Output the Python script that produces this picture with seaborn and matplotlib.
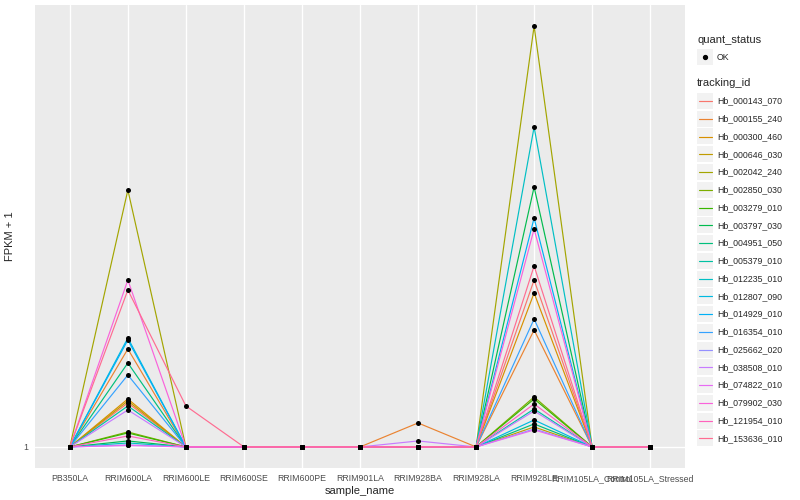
import pandas as pd
import numpy as np
import matplotlib
matplotlib.use("Agg")
import matplotlib.pyplot as plt
import seaborn as sns
from matplotlib.patches import Rectangle
from matplotlib.lines import Line2D

# =====================================================
# DATA (FPKM + 1)
# =====================================================

samples = [
    "PB350LA", "RRIM600LA", "RRIM600LE", "RRIM600SE", "RRIM600PE",
    "RRIM901LA", "RRIM928BA", "RRIM928LA", "RRIM928LE",
    "RRIM105LA_Control", "RRIM105LA_Stressed"
]

tracking_ids = [
    "Hb_000143_070", "Hb_000155_240", "Hb_000300_460", "Hb_000646_030",
    "Hb_002042_240", "Hb_002850_030", "Hb_003279_010", "Hb_003797_030",
    "Hb_004951_050", "Hb_005379_010", "Hb_012235_010", "Hb_012807_090",
    "Hb_014929_010", "Hb_016354_010", "Hb_025662_020", "Hb_038508_010",
    "Hb_074822_010", "Hb_079902_030", "Hb_121954_010", "Hb_153636_010"
]

baseline = [1.0] * 20

rrim600la = [5.4, 10.8, 5.8, 5.6, 26.7, 2.5, 2.4, 1.6, 9.4, 5.1,
             1.4, 11.9, 11.7, 8.2, 1.2, 4.7, 1.15, 17.7, 2.1, 16.7]

rrim600le = [1.0, 1.0, 1.0, 1.0, 1.0, 1.0, 1.0, 1.0, 1.0, 1.0,
             1.0, 1.0, 1.0, 1.0, 1.0, 1.0, 1.0, 1.0, 1.0, 5.1]

rrim928ba = [1.0, 3.4, 1.0, 1.0, 1.0, 1.0, 1.0, 1.0, 1.0, 1.0,
             1.0, 1.0, 1.0, 1.0, 1.0, 1.6, 1.0, 1.0, 1.0, 1.0]

rrim928le = [17.7, 12.7, 16.4, 3.0, 43.1, 6.0, 5.8, 27.0, 3.3, 4.8,
             33.0, 3.7, 23.9, 13.8, 2.8, 4.6, 2.7, 22.8, 5.3, 19.1]

columns = {
    "PB350LA": baseline,
    "RRIM600LA": rrim600la,
    "RRIM600LE": rrim600le,
    "RRIM600SE": baseline,
    "RRIM600PE": baseline,
    "RRIM901LA": baseline,
    "RRIM928BA": rrim928ba,
    "RRIM928LA": baseline,
    "RRIM928LE": rrim928le,
    "RRIM105LA_Control": baseline,
    "RRIM105LA_Stressed": baseline,
}

# ggplot2 hue_pal(20)
colors = [
    "#F8766D", "#EA8331", "#D89000", "#C09B00", "#A3A500",
    "#7CAE00", "#39B600", "#00BB4E", "#00BF7D", "#00C1A3",
    "#00BFC4", "#00BAE0", "#00B0F6", "#35A2FF", "#9590FF",
    "#C77CFF", "#E76BF3", "#FA62DB", "#FF62BC", "#FF6C91"
]

rows = []
for s in samples:
    for g, v in zip(tracking_ids, columns[s]):
        rows.append({"sample_name": s, "tracking_id": g, "fpkm1": v})
df = pd.DataFrame(rows)
df["sample_name"] = pd.Categorical(df["sample_name"], categories=samples, ordered=True)
df["xpos"] = df["sample_name"].cat.codes

# =====================================================
# PLOT
# =====================================================

sns.set_style("white")
plt.rcParams["font.family"] = ["Liberation Sans", "DejaVu Sans"]

fig = plt.figure(figsize=(8, 5), dpi=100)
ax = fig.add_axes([35/800, 32/500, 650/800, 463/500])
ax.set_facecolor("#EBEBEB")

sns.lineplot(
    data=df,
    x="xpos",
    y="fpkm1",
    hue="tracking_id",
    hue_order=tracking_ids,
    palette=colors,
    linewidth=0.85,
    legend=False,
    estimator=None,
    sort=True,
    ax=ax
)

sns.scatterplot(
    data=df,
    x="xpos",
    y="fpkm1",
    color="black",
    s=13,
    linewidth=0,
    legend=False,
    zorder=5,
    ax=ax
)

ymin, ymax = df["fpkm1"].min(), df["fpkm1"].max()
rng = ymax - ymin
ax.set_ylim(ymin - 0.05 * rng, ymax + 0.05 * rng)
ax.set_xlim(-0.6, len(samples) - 0.4)

ax.set_xticks(range(len(samples)))
ax.set_xticklabels(samples)
ax.set_yticks([1])
ax.set_yticklabels(["1"])

ax.set_axisbelow(True)
ax.grid(True, color="white", linewidth=1.0)
for sp in ax.spines.values():
    sp.set_visible(False)

ax.tick_params(axis="both", length=2.5, width=0.6, color="#333333",
               labelsize=6.3, labelcolor="#4D4D4D", pad=2)

ax.set_xlabel("sample_name", fontsize=8, labelpad=2)
ax.set_ylabel("FPKM + 1", fontsize=8, labelpad=6)

# =====================================================
# LEGEND (ggplot style, drawn in pixel coords)
# =====================================================

def px(x, y):
    return x / 800, 1 - y / 500

fig.text(*px(697, 40), "quant_status", fontsize=8, va="center", ha="left")
kx, kw, kh = 697, 16, 16
x0, y0 = px(kx, 57 + kh / 2)
fig.patches.append(Rectangle((x0, y0), kw / 800, kh / 500,
                             transform=fig.transFigure, facecolor="#F2F2F2",
                             edgecolor="none"))
fig.lines.append(Line2D([px(kx + kw / 2, 57)[0]], [px(kx + kw / 2, 57)[1]],
                        transform=fig.transFigure, marker="o", color="black",
                        markersize=2.8, linestyle="none"))
fig.text(*px(717, 57), "OK", fontsize=6.3, va="center", ha="left")

fig.text(*px(697, 83), "tracking_id", fontsize=8, va="center", ha="left")
step = 17.75
for i, (g, c) in enumerate(zip(tracking_ids, colors)):
    yc = 101 + i * step
    x0, y0 = px(kx, yc + kh / 2)
    fig.patches.append(Rectangle((x0, y0), kw / 800, kh / 500,
                                 transform=fig.transFigure,
                                 facecolor="#F2F2F2", edgecolor="none"))
    xa, ya = px(kx + 1.5, yc)
    xb, _ = px(kx + kw - 1.5, yc)
    fig.lines.append(Line2D([xa, xb], [ya, ya], transform=fig.transFigure,
                            color=c, linewidth=0.85))
    fig.text(*px(717, yc), g, fontsize=6.3, va="center", ha="left")

plt.savefig("out.png", dpi=100)
